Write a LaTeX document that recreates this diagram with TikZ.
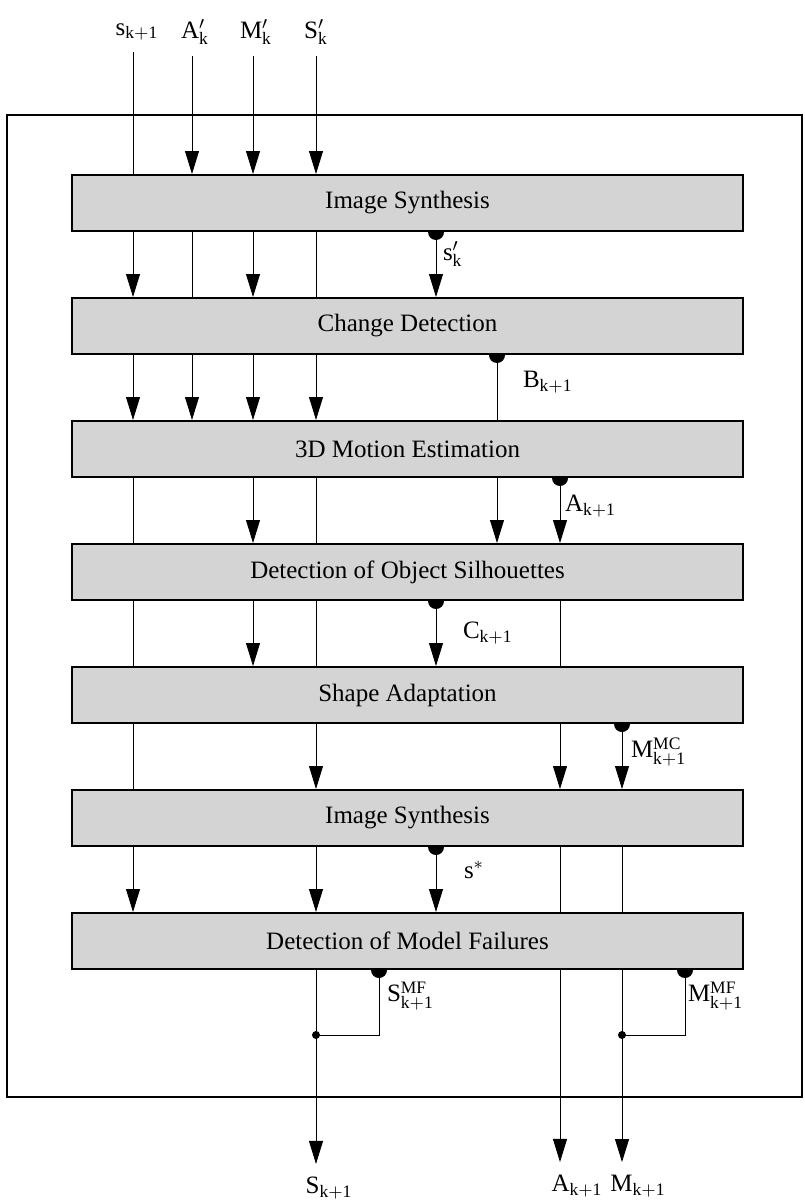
\documentclass[tikz,border=0pt]{standalone}
\usepackage{fontspec}
\setmainfont{Liberation Serif}
\usetikzlibrary{arrows.meta,backgrounds}
\tikzset{
  stage/.style={draw,line width=1pt,fill=black!17,minimum width=335.5pt,minimum height=28pt,inner sep=0pt,font=\fontsize{12.5}{15}\selectfont},
  lbl/.style={inner sep=0pt,font=\fontsize{12.5}{15}\selectfont},
  feed/.style={-{Triangle[length=11.5pt,width=7pt]}}
}
\begin{document}
\begin{tikzpicture}[x=0.5pt,y=-0.5pt,line width=1pt]
\useasboundingbox (0,0) rectangle (804,1204);
\draw (7,115) rectangle (802,1097);
\coordinate (c1) at (133,0);
\coordinate (c2) at (192,0);
\coordinate (c3) at (253,0);
\coordinate (c4) at (316,0);
\coordinate (c5) at (436,0);
\coordinate (c6) at (497,0);
\coordinate (c7) at (560,0);
\coordinate (c8) at (622,0);
\coordinate (cS) at (379,0);
\coordinate (cM) at (685,0);
\coordinate (jS) at (316,1035);
\coordinate (jM) at (622,1035);
\node[stage] (is1) at (407.5,203) {Image Synthesis};
\node[stage] (cd) at (407.5,326) {Change Detection};
\node[stage] (me) at (407.5,449) {3D Motion Estimation};
\node[stage] (os) at (407.5,572) {Detection of Object Silhouettes};
\node[stage] (sa) at (407.5,695) {Shape Adaptation};
\node[stage] (is2) at (407.5,818) {Image Synthesis};
\node[stage] (mf) at (407.5,941) {Detection of Model Failures};
\node[lbl] (ins) at (137,32) {$\mathrm{s}_{\mathrm{k+1}}$};
\node[lbl] (ina) at (195,32) {$\mathrm{A}'_{\mathrm{k}}$};
\node[lbl] (inm) at (256,32) {$\mathrm{M}'_{\mathrm{k}}$};
\node[lbl] (inS) at (316,32) {$\mathrm{S}'_{\mathrm{k}}$};
\node[lbl,anchor=west] (sk) at (442,254) {$\mathrm{s}'_{\mathrm{k}}$};
\node[lbl,anchor=west] (bk) at (522,382) {$\mathrm{B}_{\mathrm{k+1}}$};
\node[lbl,anchor=west] (ak) at (564,506) {$\mathrm{A}_{\mathrm{k+1}}$};
\node[lbl,anchor=west] (ck) at (462,633) {$\mathrm{C}_{\mathrm{k+1}}$};
\node[lbl,anchor=west] (mmc) at (630,752) {$\mathrm{M}^{\mathrm{MC}}_{\mathrm{k+1}}$};
\node[lbl,anchor=west] (sst) at (463,870) {$\mathrm{s}^{*}$};
\node[lbl,anchor=west] (smf) at (386,996) {$\mathrm{S}^{\mathrm{MF}}_{\mathrm{k+1}}$};
\node[lbl,anchor=west] (mmf) at (687,996) {$\mathrm{M}^{\mathrm{MF}}_{\mathrm{k+1}}$};
\node[lbl] (outS) at (329,1188) {$\mathrm{S}_{\mathrm{k+1}}$};
\node[lbl] (outA) at (577,1186) {$\mathrm{A}_{\mathrm{k+1}}$};
\node[lbl] (outM) at (638,1186) {$\mathrm{M}_{\mathrm{k+1}}$};
\begin{pgfonlayer}{background}
\draw[shorten <=5pt] (ins.south -| c1) -- (c1 |- is1.north);
\foreach \c/\n in {c2/ina,c3/inm,c4/inS} \draw[feed,shorten <=5pt] (\n.south -| \c) -- (\c |- is1.north);
\foreach \c in {c1,c3,c5} \draw[feed] (\c |- is1.south) -- (\c |- cd.north);
\foreach \c in {c2,c4} \draw (\c |- is1.south) -- (\c |- cd.north);
\foreach \c in {c1,c2,c3,c4} \draw[feed] (\c |- cd.south) -- (\c |- me.north);
\draw (c6 |- cd.south) -- (c6 |- me.north);
\foreach \c in {c3,c6,c7} \draw[feed] (\c |- me.south) -- (\c |- os.north);
\foreach \c in {c1,c4} \draw (\c |- me.south) -- (\c |- os.north);
\foreach \c in {c3,c5} \draw[feed] (\c |- os.south) -- (\c |- sa.north);
\foreach \c in {c1,c4,c7} \draw (\c |- os.south) -- (\c |- sa.north);
\foreach \c in {c4,c7,c8} \draw[feed] (\c |- sa.south) -- (\c |- is2.north);
\draw (c1 |- sa.south) -- (c1 |- is2.north);
\foreach \c in {c1,c4,c5} \draw[feed] (\c |- is2.south) -- (\c |- mf.north);
\foreach \c in {c7,c8} \draw (\c |- is2.south) -- (\c |- mf.north);
\draw[feed,shorten >=6pt] (c4 |- mf.south) -- (outS.north -| c4);
\draw[feed,shorten >=6pt] (c7 |- mf.south) -- (outA.north -| c7);
\draw[feed,shorten >=6pt] (c8 |- mf.south) -- (outM.north -| c8);
\draw (cS |- mf.south) |- (jS);
\draw (cM |- mf.south) |- (jM);
\fill (c5 |- is1.south) circle[radius=4pt];
\fill (c6 |- cd.south) circle[radius=4pt];
\fill (c7 |- me.south) circle[radius=4pt];
\fill (c5 |- os.south) circle[radius=4pt];
\fill (c8 |- sa.south) circle[radius=4pt];
\fill (c5 |- is2.south) circle[radius=4pt];
\fill (cS |- mf.south) circle[radius=4pt];
\fill (cM |- mf.south) circle[radius=4pt];
\end{pgfonlayer}
\fill (jS) circle[radius=2pt];
\fill (jM) circle[radius=2pt];
\end{tikzpicture}
\end{document}
